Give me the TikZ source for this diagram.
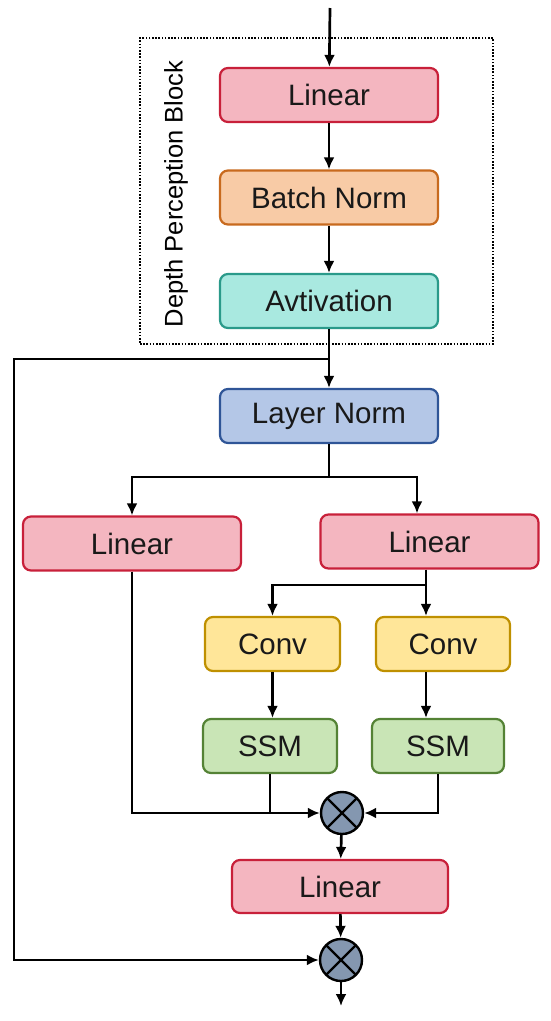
\documentclass[tikz,border=0pt]{standalone}
\usepackage{fontspec}
\setmainfont{Liberation Sans}
\usepackage{xcolor}
\usepackage{tikz}
\usetikzlibrary{arrows.meta,positioning,calc}
\definecolor{LinRed}{HTML}{C8203A}
\definecolor{LinFill}{HTML}{F4B6C0}
\definecolor{BnOrange}{HTML}{C86A1E}
\definecolor{BnFill}{HTML}{F8CBA6}
\definecolor{ActTeal}{HTML}{2A9A8A}
\definecolor{ActFill}{HTML}{A9E9E0}
\definecolor{LnBlue}{HTML}{2F5597}
\definecolor{LnFill}{HTML}{B4C7E7}
\definecolor{ConvGold}{HTML}{BF9000}
\definecolor{ConvFill}{HTML}{FFE699}
\definecolor{SsmGreen}{HTML}{548235}
\definecolor{SsmFill}{HTML}{C9E5B6}
\definecolor{MulFill}{HTML}{8497B0}

\begin{document}
\begin{tikzpicture}[x=1pt,y=-1pt,font=\fontsize{29.5}{34}\selectfont,>={Latex[length=12pt,width=11pt]},
  box/.style={rounded corners=8pt,line width=2.2pt,minimum height=54pt,inner sep=0pt,text=black!90},
  linbox/.style={box,draw=LinRed,fill=LinFill,minimum width=218pt},
  flow/.style={->,line width=2.7pt},
  wire/.style={line width=2.7pt},
  mul/.style={circle,draw,line width=2.4pt,fill=MulFill,minimum size=42pt,inner sep=0pt,
    path picture={\draw[line width=2.4pt] (path picture bounding box.north west)--(path picture bounding box.south east)
      (path picture bounding box.north east)--(path picture bounding box.south west);}}]
\useasboundingbox (0,0) rectangle (550,1021);
% depth perception block
\node[draw,line width=1.8pt,dash pattern=on 1.6pt off 1.6pt,minimum width=353pt,minimum height=306pt,inner sep=0pt] (dpb) at (316.5,191) {};
\node[rotate=90,font=\fontsize{25.5}{30}\selectfont] (dpblbl) at (176,194) {Depth Perception Block};
\node[linbox] (lin1) at (329,95) {Linear};
\node[box,draw=BnOrange,fill=BnFill,minimum width=218pt] (bn) at (329,197.5) {Batch Norm};
\node[box,draw=ActTeal,fill=ActFill,minimum width=218pt] (act) at (329,301) {Avtivation};
\node[box,draw=LnBlue,fill=LnFill,minimum width=218pt] (ln) at (329,416) {Layer Norm};
% two branches
\node[linbox] (linL) at (132,543.5) {Linear};
\node[linbox] (linR) at (429.5,541.5) {Linear};
\node[box,draw=ConvGold,fill=ConvFill,minimum width=135pt] (convL) at (272.5,644) {Conv};
\node[box,draw=ConvGold,fill=ConvFill,minimum width=134pt] (convR) at (443,644) {Conv};
\node[box,draw=SsmGreen,fill=SsmFill,minimum width=134pt] (ssmL) at (270,746) {SSM};
\node[box,draw=SsmGreen,fill=SsmFill,minimum width=132pt] (ssmR) at (438,746) {SSM};
\node[mul] (mul1) at (342,813) {};
\node[linbox,minimum width=216pt,minimum height=53pt] (linB) at (340,886.5) {Linear};
\node[mul] (mul2) at (341,960) {};
\coordinate (in) at (330,8);
\coordinate (out) at (341,1006);
\coordinate (sk) at (329,359);
\coordinate (skl) at (14,359);
\coordinate (br) at (329,477);
\coordinate (sp) at (426,585);
% connectors
\draw[flow] (in) -- (lin1);
\draw[flow] (lin1) -- (bn);
\draw[flow] (bn) -- (act);
\draw[flow] (act) -- (ln);
\draw[flow] (sk) -- (skl) |- (mul2);
\draw[wire] (ln) -- (br);
\draw[flow] (br) -| (linL);
\draw[flow] (br) -| ([xshift=-12.5pt]linR.north);
\draw[wire] (linR.south -| sp) -- (sp);
\draw[flow] (sp) -| (convL);
\draw[flow] (sp) -- (sp |- convR.north);
\draw[flow] (sp |- convR.south) -- (sp |- ssmR.north);
\draw[flow] (convL) -- (convL |- ssmL.north);
\draw[flow] (linL) |- (mul1);
\draw[wire] (ssmL) -- (ssmL |- mul1);
\draw[flow] (ssmR) |- (mul1);
\draw[flow] (mul1) -- (linB);
\draw[flow] (linB) -- (mul2);
\draw[flow] (mul2) -- (out);
\end{tikzpicture}
\end{document}
